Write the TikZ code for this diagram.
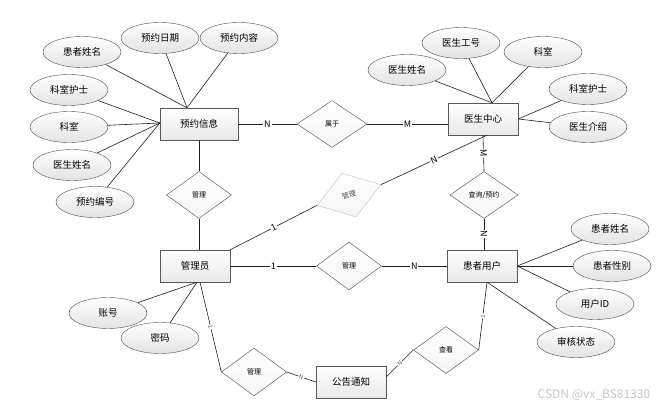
\documentclass[tikz,border=0pt]{standalone}
\usepackage{fontspec}
\setmainfont{Noto Sans CJK SC}
\usetikzlibrary{shapes.geometric,shadows}

\begin{document}
\begin{tikzpicture}[x=1pt, y=-1pt,
  entity/.style={rectangle, draw=gray!70!black, top color=white, bottom color=gray!18,
                 minimum width=70pt, minimum height=32pt, font=\fontsize{9.5}{11}\selectfont,
                 drop shadow={shadow xshift=1.2pt, shadow yshift=-1.2pt, fill=gray!60, opacity=1}},
  attr/.style={ellipse, draw=gray!60!black, top color=white, bottom color=gray!22,
               minimum width=78pt, minimum height=31pt, inner sep=0pt, font=\fontsize{9.5}{11}\selectfont},
  rel/.style={diamond, draw=gray!60!black, top color=white, bottom color=gray!8,
              minimum width=65pt, minimum height=47pt, inner sep=0pt, font=\fontsize{7}{8}\selectfont},
  link/.style={draw=gray!25!black, line width=0.6pt},
  card/.style={fill=white, inner sep=0.8pt, font=\fontsize{9}{10}\selectfont},
  tinycard/.style={card, font=\fontsize{6}{7}\selectfont, text=gray!70!black},
]
\useasboundingbox (0,0) rectangle (664,411);

% entities
\node[entity, minimum width=78pt] (yy) at (199,124) {预约信息};
\node[entity] (ys) at (483,119) {医生中心};
\node[entity] (gy) at (195,266) {管理员};
\node[entity] (hu) at (482,266) {患者用户};
\node[entity] (gg) at (351,382) {公告通知};

% relations
\node[rel, minimum width=70pt] (sy) at (332,124) {属于};
\node[rel] (g1) at (199,195) {管理};
\node[rel, minimum width=67pt, minimum height=46pt, rotate=18, draw=gray!50, text=gray!60!black] (gl) at (349,195) {管理};
\node[rel, minimum width=68pt] (cx) at (484,195) {查询/预约};
\node[rel, minimum height=48pt] (g2) at (349,266) {管理};
\node[rel, minimum height=48pt] (g3) at (254,372) {管理};
\node[rel] (ck) at (446,350) {查看};

% attributes of 预约信息
\node[attr] (a1) at (82,52) {患者姓名};
\node[attr] (a2) at (160,38) {预约日期};
\node[attr] (a3) at (239,38) {预约内容};
\node[attr] (a4) at (69,90) {科室护士};
\node[attr] (a5) at (69,127) {科室};
\node[attr] (a6) at (72,165) {医生姓名};
\node[attr] (a7) at (95,202) {预约编号};

% attributes of 医生中心
\node[attr] (b1) at (407,70) {医生姓名};
\node[attr] (b2) at (461,43) {医生工号};
\node[attr] (b3) at (543,52) {科室};
\node[attr] (b4) at (588,89) {科室护士};
\node[attr] (b5) at (588,127) {医生介绍};

% attributes of 管理员
\node[attr] (c1) at (108,313) {账号};
\node[attr] (c2) at (160,338) {密码};

% attributes of 患者用户
\node[attr] (d1) at (610,229) {患者姓名};
\node[attr] (d2) at (612,266) {患者性别};
\node[attr] (d3) at (595,304) {用户ID};
\node[attr] (d4) at (576,342) {审核状态};

\foreach \a in {a1,a2,a3}
  \draw[link] (\a) -- ([xshift=-12pt]yy.north);
\foreach \a in {a4,a5,a6,a7}
  \draw[link] (\a) -- ([yshift=1pt]yy.west);
\foreach \b in {b1,b2,b3}
  \draw[link] (\b) -- ([xshift=9pt]ys.north);
\foreach \b in {b4,b5}
  \draw[link] (\b) -- (ys.east);
\foreach \c in {c1,c2}
  \draw[link] (\c) -- ([xshift=2pt]gy.south);
\foreach \d in {d1,d2,d3}
  \draw[link] (\d) -- (hu.east);
\draw[link] (d4) -- ([xshift=5pt]hu.south);

% relationships
\draw[link] (yy.east) -- node[card] {N} (sy.west);
\draw[link] (sy.east) -- node[card] {M} (sy.east -| ys.west);
\draw[link] (yy.south) -- (g1.north);
\draw[link] (g1.south) -- (g1.south |- gy.north);
\draw[link] (ys.south) -- node[card, sloped] {M} (cx.north);
\draw[link] (cx.south) -- node[card, sloped] {N} (cx.south |- hu.north);
\draw[link] (gy.north east) -- node[card, sloped] {1} (gl.west);
\draw[link] (gl.east) -- node[card, sloped] {N} ([xshift=4pt]ys.south);
\draw[link] (gy.east) -- node[card] {1} (g2.west);
\draw[link] (g2.east) -- node[card] {N} (hu.west);
\draw[link] ([xshift=5pt]gy.south) -- node[tinycard, sloped] {1} (g3.west);
\draw[link] (g3.east) -- node[tinycard, sloped] {N} (gg.west);
\draw[link] ([xshift=5pt]hu.south) -- node[tinycard, sloped] {1} (ck.east);
\draw[link] (ck.west) -- node[tinycard, sloped] {N} ([yshift=5pt]gg.east);

\node[font=\fontsize{12}{14}\selectfont, text=gray!45] (wm) at (594,395) {CSDN @vx\_BS81330};

\end{tikzpicture}
\end{document}
